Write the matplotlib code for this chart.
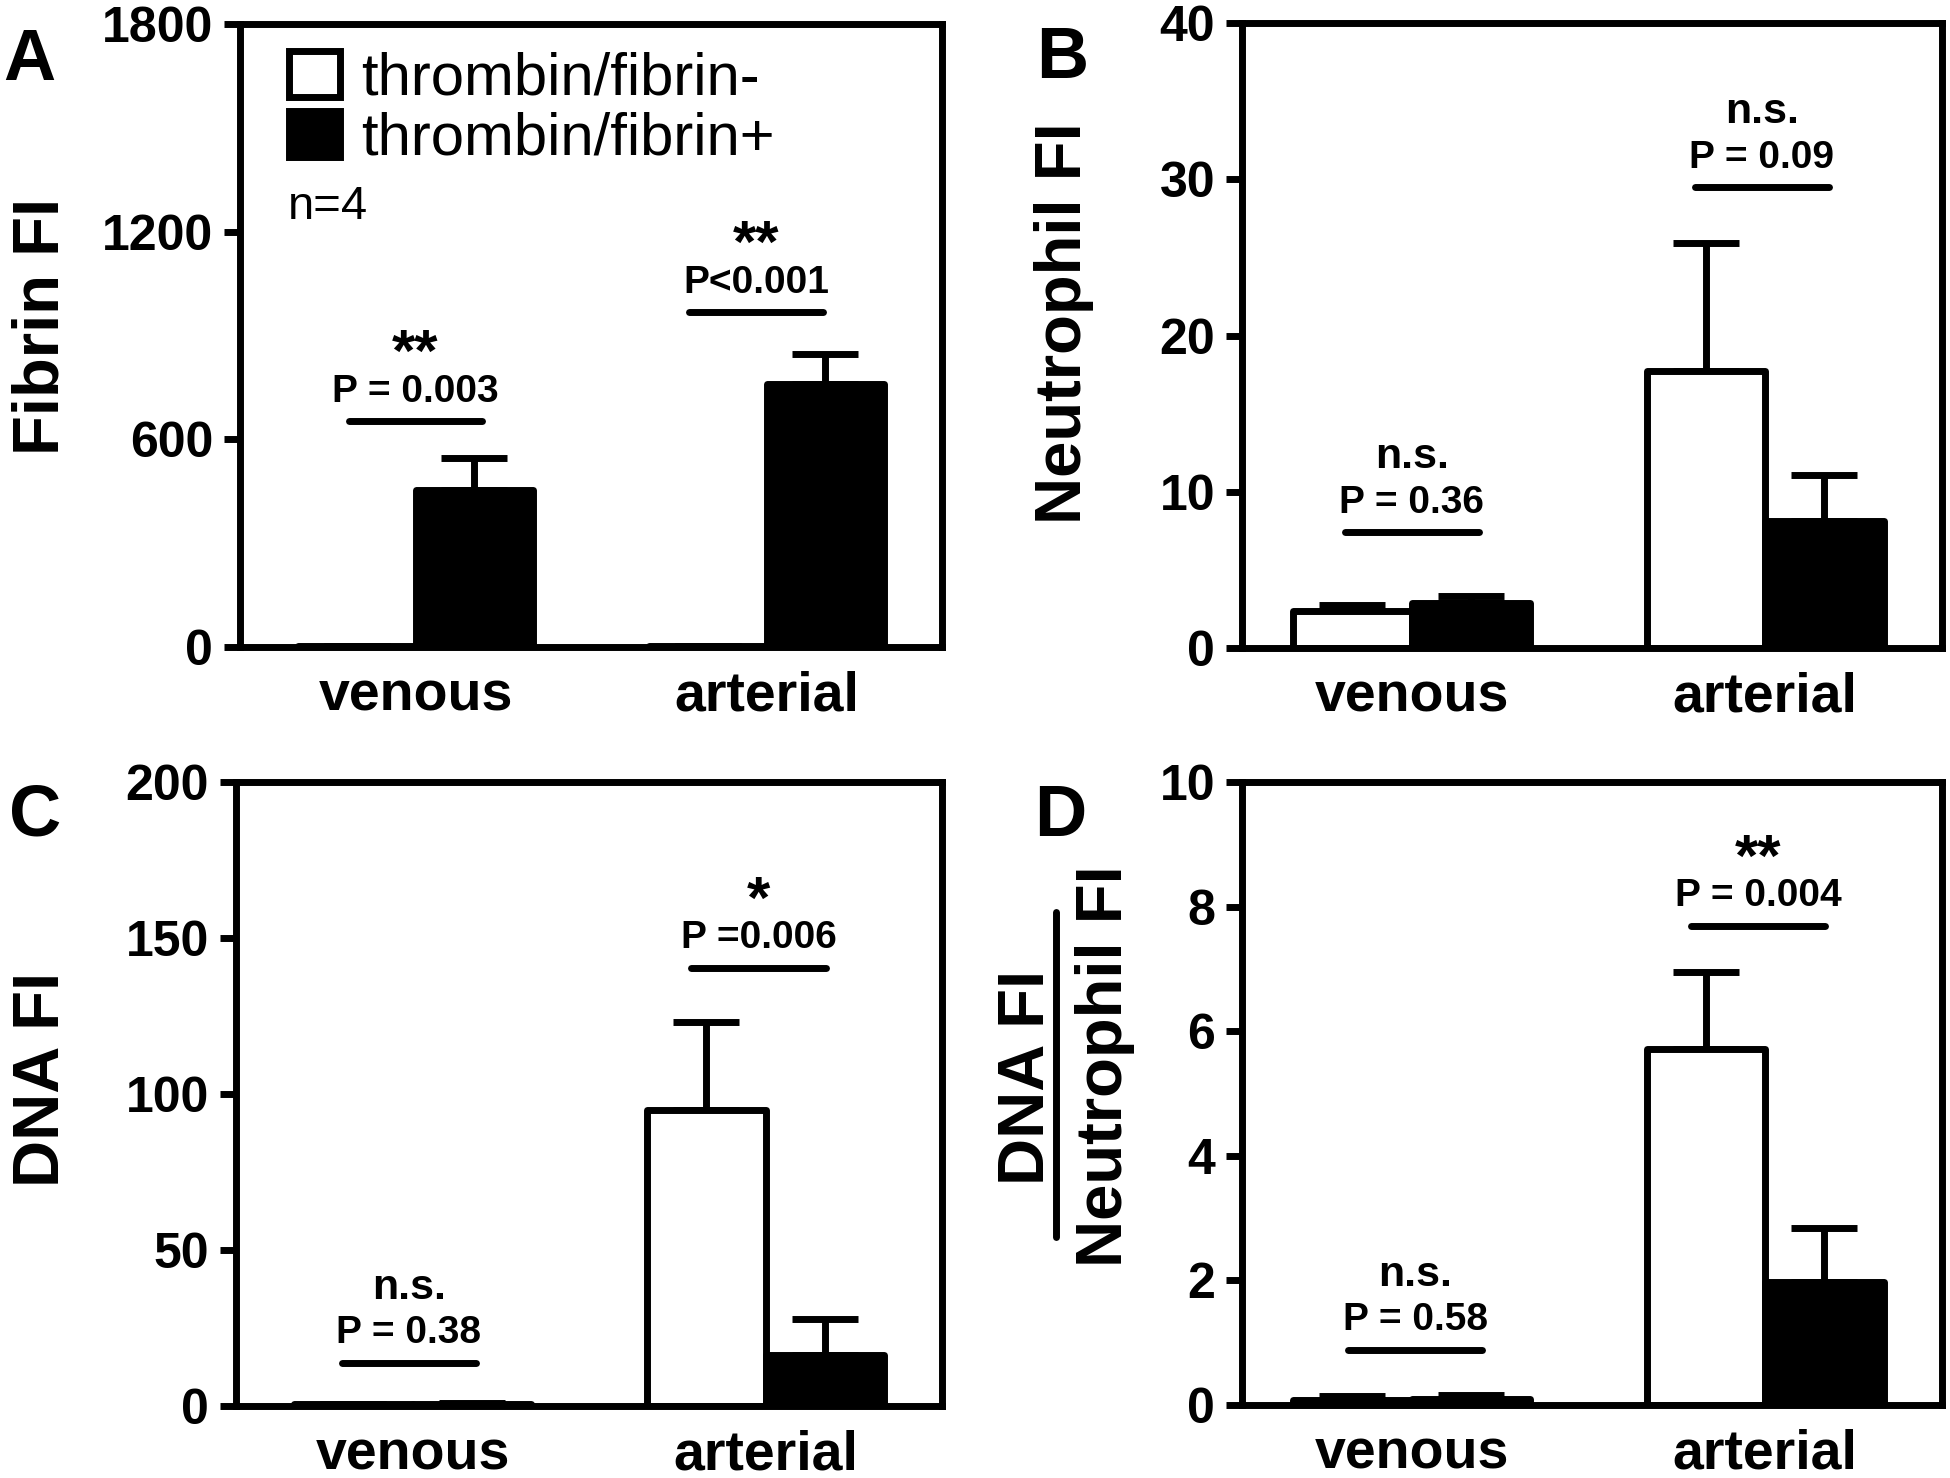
import matplotlib
matplotlib.use('Agg')
import matplotlib.pyplot as plt
import numpy as np
from matplotlib.lines import Line2D

plt.rcParams['font.family'] = ['Liberation Sans', 'DejaVu Sans']
plt.rcParams['font.weight'] = 'bold'

# ---------------- data ----------------
groups = ['venous', 'arterial']
series = ['thrombin/fibrin-', 'thrombin/fibrin+']

fibrin_neg = [3, 2]
fibrin_neg_err = [1, 1]
fibrin_pos = [454, 760]
fibrin_pos_err = [92, 87]

neut_neg = [2.4, 17.7]
neut_neg_err = [0.35, 8.2]
neut_pos = [2.85, 8.1]
neut_pos_err = [0.5, 3.0]

dna_neg = [0.5, 95]
dna_neg_err = [0.3, 28]
dna_pos = [0.6, 16.5]
dna_pos_err = [0.4, 11.5]

ratio_neg = [0.08, 5.72]
ratio_neg_err = [0.06, 1.23]
ratio_pos = [0.09, 1.98]
ratio_pos_err = [0.07, 0.86]

# significance annotations (bar height, p-value text, star text)
fibrin_sig_y = [653, 968]
fibrin_p = ['P = 0.003', 'P<0.001']
fibrin_star = ['**', '**']

neut_sig_y = [7.4, 29.5]
neut_p = ['P = 0.36', 'P = 0.09']
neut_star = ['n.s.', 'n.s.']

dna_sig_y = [13.9, 140.5]
dna_p = ['P = 0.38', 'P =0.006']
dna_star = ['n.s.', '*']

ratio_sig_y = [0.89, 7.69]
ratio_p = ['P = 0.58', 'P = 0.004']
ratio_star = ['n.s.', '**']

fibrin_ticks = [0, 600, 1200, 1800]
neut_ticks = [0, 10, 20, 30, 40]
dna_ticks = [0, 50, 100, 150, 200]
ratio_ticks = [0, 2, 4, 6, 8, 10]

# ---------------- figure ----------------
W, H = 1950, 1478
fig = plt.figure(figsize=(W / 100, H / 100), dpi=100)


def fx(px):
    return px / W


def fy(py):
    return 1 - py / H


def make_axes(l, r, t, b):
    return fig.add_axes([fx(l), fy(b), fx(r) - fx(l), fy(t) - fy(b)])


LW = 5
BW = 0.335


def panel(ax, neg, neg_err, pos, pos_err, ticks, sig_y, ptxt, stxt, xlim, sig_x):
    x = np.arange(len(groups))
    b1 = ax.bar(x - BW / 2, neg, BW, color='white', edgecolor='black',
                linewidth=LW, joinstyle='round', zorder=2, label=series[0])
    b2 = ax.bar(x + BW / 2, pos, BW, color='black', edgecolor='black',
                linewidth=LW, joinstyle='round', zorder=2, label=series[1])
    ax.errorbar(x - BW / 2, neg, yerr=[np.zeros(len(neg)), neg_err], fmt='none',
                ecolor='black', elinewidth=LW, capsize=24, capthick=LW, zorder=1)
    ax.errorbar(x + BW / 2, pos, yerr=[np.zeros(len(pos)), pos_err], fmt='none',
                ecolor='black', elinewidth=LW, capsize=24, capthick=LW, zorder=1)
    ax.set_ylim(ticks[0], ticks[-1])
    ax.set_yticks(ticks)
    ax.set_yticklabels([str(t) for t in ticks])
    ax.set_xlim(*xlim)
    ax.set_xticks(x)
    ax.set_xticklabels(groups)
    ax.tick_params(axis='y', direction='out', length=11.5, width=LW, pad=8,
                   labelsize=36)
    ax.tick_params(axis='x', length=0, pad=17, labelsize=40)
    for sp in ax.spines.values():
        sp.set_linewidth(LW)
        sp.set_capstyle('projecting')
    for xc, yv, pt, st in zip(sig_x, sig_y, ptxt, stxt):
        ax.plot([xc - 0.19, xc + 0.19], [yv, yv], color='black', lw=LW,
                solid_capstyle='round', zorder=3)
        ax.annotate(pt, (xc, yv), xytext=(0, 14), textcoords='offset points',
                    ha='center', va='baseline', fontsize=28, fontweight='bold')
        if st == 'n.s.':
            ax.annotate(st, (xc, yv), xytext=(0, 46), textcoords='offset points',
                        ha='center', va='baseline', fontsize=31, fontweight='bold')
        else:
            ax.annotate(st, (xc, yv), xytext=(0, 36), textcoords='offset points',
                        ha='center', va='baseline', fontsize=43, fontweight='bold')
    return b1, b2


axA = make_axes(240, 942, 24, 647)
axB = make_axes(1242, 1942, 23, 648)
axC = make_axes(236, 942, 782, 1406)
axD = make_axes(1242, 1942, 782, 1405)

bA = panel(axA, fibrin_neg, fibrin_neg_err, fibrin_pos, fibrin_pos_err,
           fibrin_ticks, fibrin_sig_y, fibrin_p, fibrin_star, (-0.5, 1.5), [0.0, 0.97])
panel(axB, neut_neg, neut_neg_err, neut_pos, neut_pos_err,
      neut_ticks, neut_sig_y, neut_p, neut_star, (-0.48, 1.5), [0.0, 0.99])
panel(axC, dna_neg, dna_neg_err, dna_pos, dna_pos_err,
      dna_ticks, dna_sig_y, dna_p, dna_star, (-0.5, 1.5), [-0.01, 0.98])
panel(axD, ratio_neg, ratio_neg_err, ratio_pos, ratio_pos_err,
      ratio_ticks, ratio_sig_y, ratio_p, ratio_star, (-0.48, 1.5), [0.01, 0.98])

# legend
leg = axA.legend(handles=list(bA), labels=series, loc='upper left',
                 bbox_to_anchor=(fx(289), fy(51)), bbox_transform=fig.transFigure,
                 frameon=False, borderpad=0, borderaxespad=0,
                 handlelength=0.85, handleheight=0.8, handletextpad=0.35,
                 labelspacing=0.08, prop={'size': 43, 'weight': 'normal'})
fig.text(fx(288), fy(219), 'n=4', fontsize=34, fontweight='normal',
         ha='left', va='baseline')

# y labels
def ylab(txt, xb, yc, size=47):
    fig.text(fx(xb), fy(yc), txt, rotation=90, rotation_mode='anchor',
             ha='center', va='baseline', fontsize=size, fontweight='bold')


ylab('Fibrin FI', 59, 326)
ylab('Neutrophil FI', 1081, 323)
ylab('DNA FI', 59, 1079)
ylab('DNA FI', 1044, 1077)
ylab('Neutrophil FI', 1122, 1066)
fig.add_artist(Line2D([fx(1056), fx(1056)], [fy(912), fy(1237)],
                      transform=fig.transFigure, color='black', lw=LW,
                      solid_capstyle='round'))

# panel letters
for letter, xp, yp in [('A', 3, 80), ('B', 1036, 78), ('C', 9, 836), ('D', 1034, 836)]:
    fig.text(fx(xp), fy(yp), letter, fontsize=52, fontweight='bold',
             ha='left', va='baseline')

fig.savefig('out.png', dpi=100)
